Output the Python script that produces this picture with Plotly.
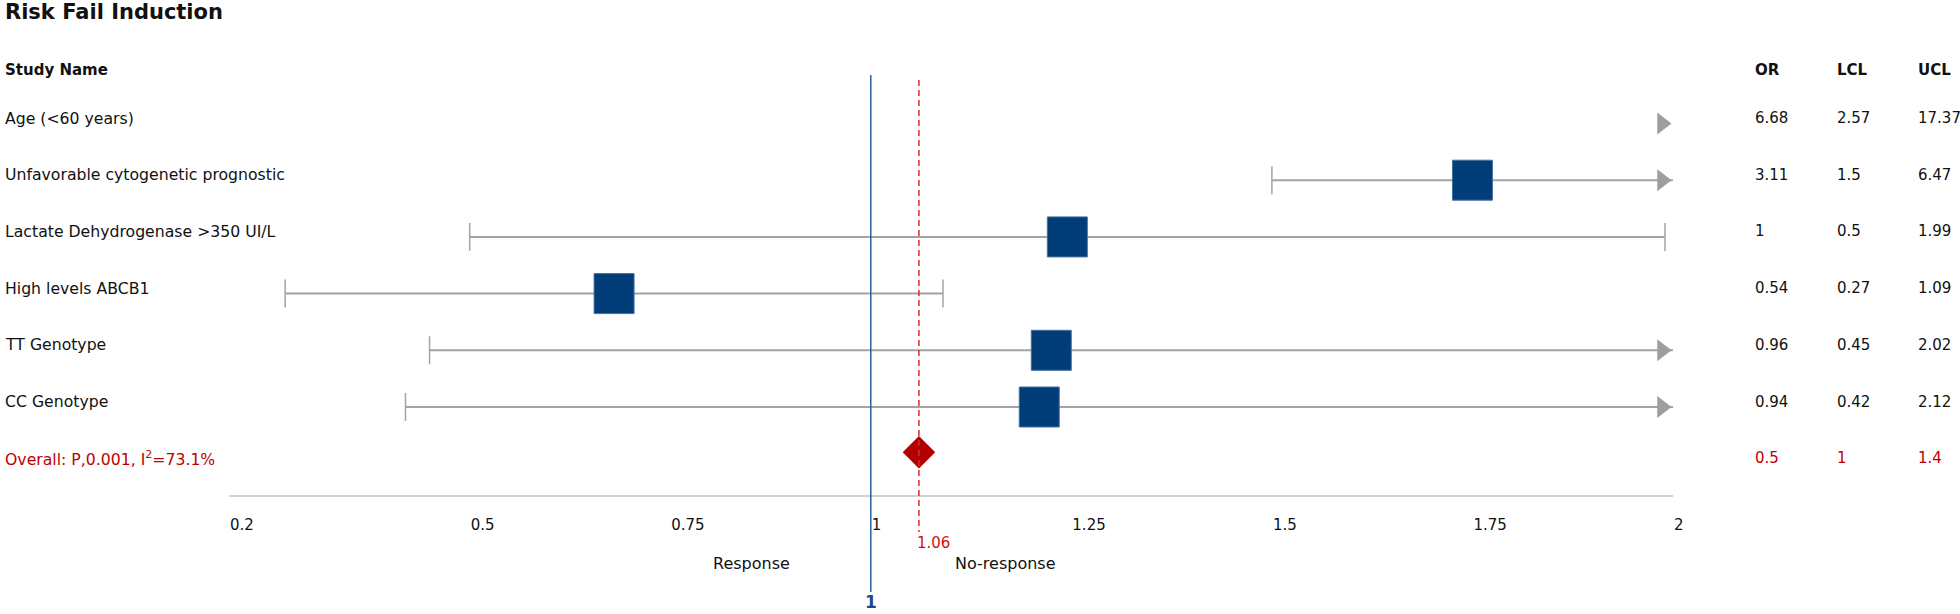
import plotly.graph_objects as go

# ---------------- data ----------------
title_text = "Risk Fail Induction"
header_name = "Study Name"
col_headers = ["OR", "LCL", "UCL"]
study_names = ["Age (<60 years)", "Unfavorable cytogenetic prognostic",
               "Lactate Dehydrogenase >350 UI/L", "High levels ABCB1",
               "TT Genotype", "CC Genotype"]
or_text = ["6.68", "3.11", "1", "0.54", "0.96", "0.94"]
lcl_vals = [2.57, 1.5, 0.5, 0.27, 0.45, 0.42]
ucl_vals = [17.37, 6.47, 1.99, 1.09, 2.02, 2.12]
# box positions as drawn on the axis
box_pos = [None, 1.75, 1.245, 0.68, 1.225, 1.21]
overall_label = "Overall: P,0.001, I<sup>2</sup>=73.1%"
overall_vals = ["0.5", "1", "1.4"]
pooled = 1.06
null_value = 1
tick_vals = [0.2, 0.5, 0.75, 1, 1.25, 1.5, 1.75, 2]
tick_text = ["0.2", "0.5", "0.75", "1", "1.25", "1.5", "1.75", "2"]
left_side = "Response"
right_side = "No-response"

# ---------------- layout constants ----------------
W, H = 1960, 614
PLOT_L, PLOT_R, PLOT_T, PLOT_B = 229, 1673, 60, 495
ML, MR, MT, MB = PLOT_L, W - PLOT_R, PLOT_T, H - PLOT_B
PW, PH = PLOT_R - PLOT_L, PLOT_B - PLOT_T
XMIN, XMAX = 0.2, 2.0
ROW0_PX, ROW_STEP = 118, 56.7
Y_TOP = 1 + (PLOT_T - ROW0_PX) / ROW_STEP
Y_BOT = 1 + (PLOT_B - ROW0_PX) / ROW_STEP
MARK_OFF = 5.5 / ROW_STEP
DIAM_OFF = -6 / ROW_STEP

FONT = "DejaVu Sans"
GRAY = "#a3a3a3"
NAVY = "#003d79"
RED_T = "#c00000"
LABEL_SIZE = 15.7


def pxx(p):
    """page x pixel -> paper x"""
    return (p - PLOT_L) / PW


def pxy(p):
    """page y pixel -> paper y"""
    return (PLOT_B - p) / PH


def vx(v):
    return (v - XMIN) / (XMAX - XMIN)


px_per_unit = PW / (XMAX - XMIN)
arrow_size = 19
arrow_x = XMAX - (arrow_size / 2 * 2 / 3 ** 0.5) / px_per_unit

fig = go.Figure()

rows = list(range(1, len(study_names) + 1))
for i, r in enumerate(rows):
    y = r + MARK_OFF
    lo, hi = lcl_vals[i], ucl_vals[i]
    if lo < XMAX:
        end = min(hi, XMAX)
        fig.add_trace(go.Scatter(x=[lo, end], y=[y, y], mode="lines",
                                 line=dict(color=GRAY, width=2),
                                 hoverinfo="skip", showlegend=False))
    caps = [v for v in (lo, hi) if XMIN <= v <= XMAX]
    if caps:
        fig.add_trace(go.Scatter(x=caps, y=[y] * len(caps), mode="markers",
                                 marker=dict(symbol="line-ns", size=20,
                                             line=dict(color=GRAY, width=1.5)),
                                 hoverinfo="skip", showlegend=False))
    if hi > XMAX:
        fig.add_trace(go.Scatter(x=[arrow_x], y=[y], mode="markers",
                                 marker=dict(symbol="triangle-right", size=arrow_size,
                                             color="#9e9e9e", line=dict(width=0)),
                                 cliponaxis=False,
                                 hoverinfo="skip", showlegend=False))
    if box_pos[i] is not None:
        fig.add_trace(go.Scatter(x=[box_pos[i]], y=[y], mode="markers",
                                 marker=dict(symbol="square", size=40, color=NAVY,
                                             line=dict(color="#4571a0", width=1)),
                                 hoverinfo="skip", showlegend=False))

overall_row = len(study_names) + 1
fig.add_trace(go.Scatter(x=[pooled], y=[overall_row + DIAM_OFF], mode="markers",
                         marker=dict(symbol="diamond", size=25, color="#b00000",
                                     line=dict(width=0)),
                         hoverinfo="skip", showlegend=False))

shapes = [
    dict(type="line", xref="paper", yref="paper",
         x0=vx(null_value), x1=vx(null_value), y0=pxy(75), y1=pxy(592),
         line=dict(color="#2c5d9c", width=1.5)),
    dict(type="line", xref="paper", yref="paper",
         x0=vx(pooled), x1=vx(pooled), y0=pxy(80), y1=pxy(532),
         line=dict(color="#e0262a", width=1.5, dash="6px,4px")),
]

ann = []
ann.append(dict(text="<b>" + title_text + "</b>", xref="paper", yref="paper",
                x=pxx(3), y=pxy(12), xanchor="left", yanchor="middle",
                showarrow=False, font=dict(family=FONT, size=21, color="#111")))
ann.append(dict(text="<b>" + header_name + "</b>", xref="paper", yref="paper",
                x=pxx(3), y=pxy(70), xanchor="left", yanchor="middle",
                showarrow=False, font=dict(family=FONT, size=15, color="#111")))
col_px = [1753, 1835, 1916]
for c, h in zip(col_px, col_headers):
    ann.append(dict(text="<b>" + h + "</b>", xref="paper", yref="paper",
                    x=pxx(c), y=pxy(70), xanchor="left", yanchor="middle",
                    showarrow=False, font=dict(family=FONT, size=15, color="#111")))
for i, r in enumerate(rows):
    ann.append(dict(text=study_names[i], xref="paper", yref="y",
                    x=pxx(3), y=r, xanchor="left", yanchor="middle",
                    showarrow=False, font=dict(family=FONT, size=LABEL_SIZE, color="#111")))
    vals = [or_text[i], f"{lcl_vals[i]:g}", f"{ucl_vals[i]:g}"]
    for c, v in zip(col_px, vals):
        ann.append(dict(text=v, xref="paper", yref="y", x=pxx(c), y=r,
                        xanchor="left", yanchor="middle", showarrow=False,
                        font=dict(family=FONT, size=15, color="#111")))
ann.append(dict(text=overall_label, xref="paper", yref="y",
                x=pxx(3), y=overall_row, xanchor="left", yanchor="middle",
                showarrow=False, font=dict(family=FONT, size=LABEL_SIZE, color=RED_T)))
for c, v in zip(col_px, overall_vals):
    ann.append(dict(text=v, xref="paper", yref="y", x=pxx(c), y=overall_row,
                    xanchor="left", yanchor="middle", showarrow=False,
                    font=dict(family=FONT, size=15, color=RED_T)))
ann.append(dict(text=f"{pooled:g}", xref="paper", yref="paper",
                x=vx(pooled), y=pxy(543), xanchor="left", yanchor="middle",
                xshift=-4, showarrow=False,
                font=dict(family=FONT, size=15, color="#d01010")))
ann.append(dict(text=left_side, xref="paper", yref="paper",
                x=vx(null_value), y=pxy(563), xanchor="right", yanchor="middle",
                xshift=-79, showarrow=False,
                font=dict(family=FONT, size=16, color="#111")))
ann.append(dict(text=right_side, xref="paper", yref="paper",
                x=vx(null_value), y=pxy(563), xanchor="left", yanchor="middle",
                xshift=82, showarrow=False,
                font=dict(family=FONT, size=16, color="#111")))
ann.append(dict(text=f"<b>{null_value:g}</b>", xref="paper", yref="paper",
                x=vx(null_value), y=pxy(602), xanchor="center", yanchor="middle",
                showarrow=False,
                font=dict(family=FONT, size=17, color="#1a4a8a")))

fig.update_layout(
    width=W, height=H,
    margin=dict(l=ML, r=MR, t=MT, b=MB, pad=0),
    paper_bgcolor="white", plot_bgcolor="white",
    font=dict(family=FONT, size=15, color="#111"),
    shapes=shapes, annotations=ann, showlegend=False,
    xaxis=dict(range=[XMIN, XMAX], tickvals=tick_vals, ticktext=tick_text,
               showgrid=False, zeroline=False, showline=True,
               linecolor="#d3d3d3", linewidth=2, ticks="",
               ticklabelposition="outside right", ticklabelstandoff=15,
               tickfont=dict(family=FONT, size=15, color="#111"),
               fixedrange=True),
    yaxis=dict(range=[Y_BOT, Y_TOP], visible=False, showgrid=False,
               zeroline=False, fixedrange=True),
)

fig.write_html("out.html",
               config={"displayModeBar": False},
               post_script="document.body.style.margin='0';"
                           "document.body.style.overflow='hidden';")
